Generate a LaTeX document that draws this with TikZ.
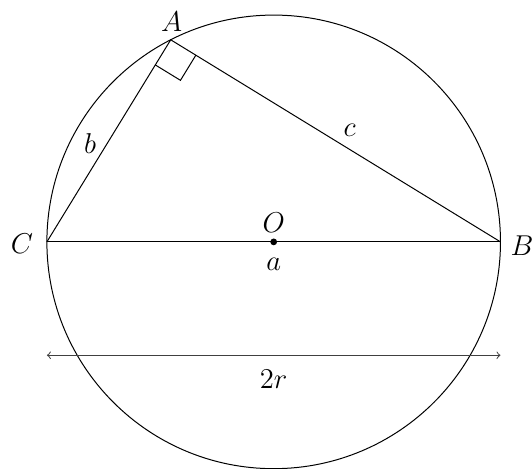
\documentclass[tikz,border=0pt]{standalone}
\usetikzlibrary{calc}
\begin{document}
\begin{tikzpicture}[
  lbl/.style={inner sep=0pt, font=\Large},
  edge/.style={draw=black, line width=0.5pt}
]
\useasboundingbox (-4.827,-4.005) rectangle (4.556,4.266);
\coordinate (O) at (0,0);
\coordinate (C) at (-4,0);
\coordinate (B) at (4,0);
\coordinate (A) at (117:4);
\draw[edge] (O) circle (4);
\draw[edge] (C) -- (B);
\draw[edge] (C) -- (A) -- (B);
\coordinate (P) at ($(A)!0.52cm!(C)$);
\coordinate (Q) at ($(A)!0.52cm!(B)$);
\coordinate (R) at ($(P)+(Q)-(A)$);
\draw[edge] (P) -- (R) -- (Q);
\fill (O) circle (1.7pt);
\coordinate (L) at (-4,-2);
\coordinate (M) at (4,-2);
\draw[edge, black!75, <->] (L) -- (M);
\node[lbl] (lA) at (-1.80,3.88) {$A$};
\node[lbl] (lB) at (4.38,-0.06) {$B$};
\node[lbl] (lC) at (-4.44,-0.04) {$C$};
\node[lbl] (lO) at (0,0.33) {$O$};
\node[lbl] (la) at (0,-0.40) {$a$};
\node[lbl] (lb) at (-3.24,1.74) {$b$};
\node[lbl] (lc) at (1.34,1.97) {$c$};
\node[lbl] (lr) at (0,-2.42) {$2r$};
\end{tikzpicture}
\end{document}
